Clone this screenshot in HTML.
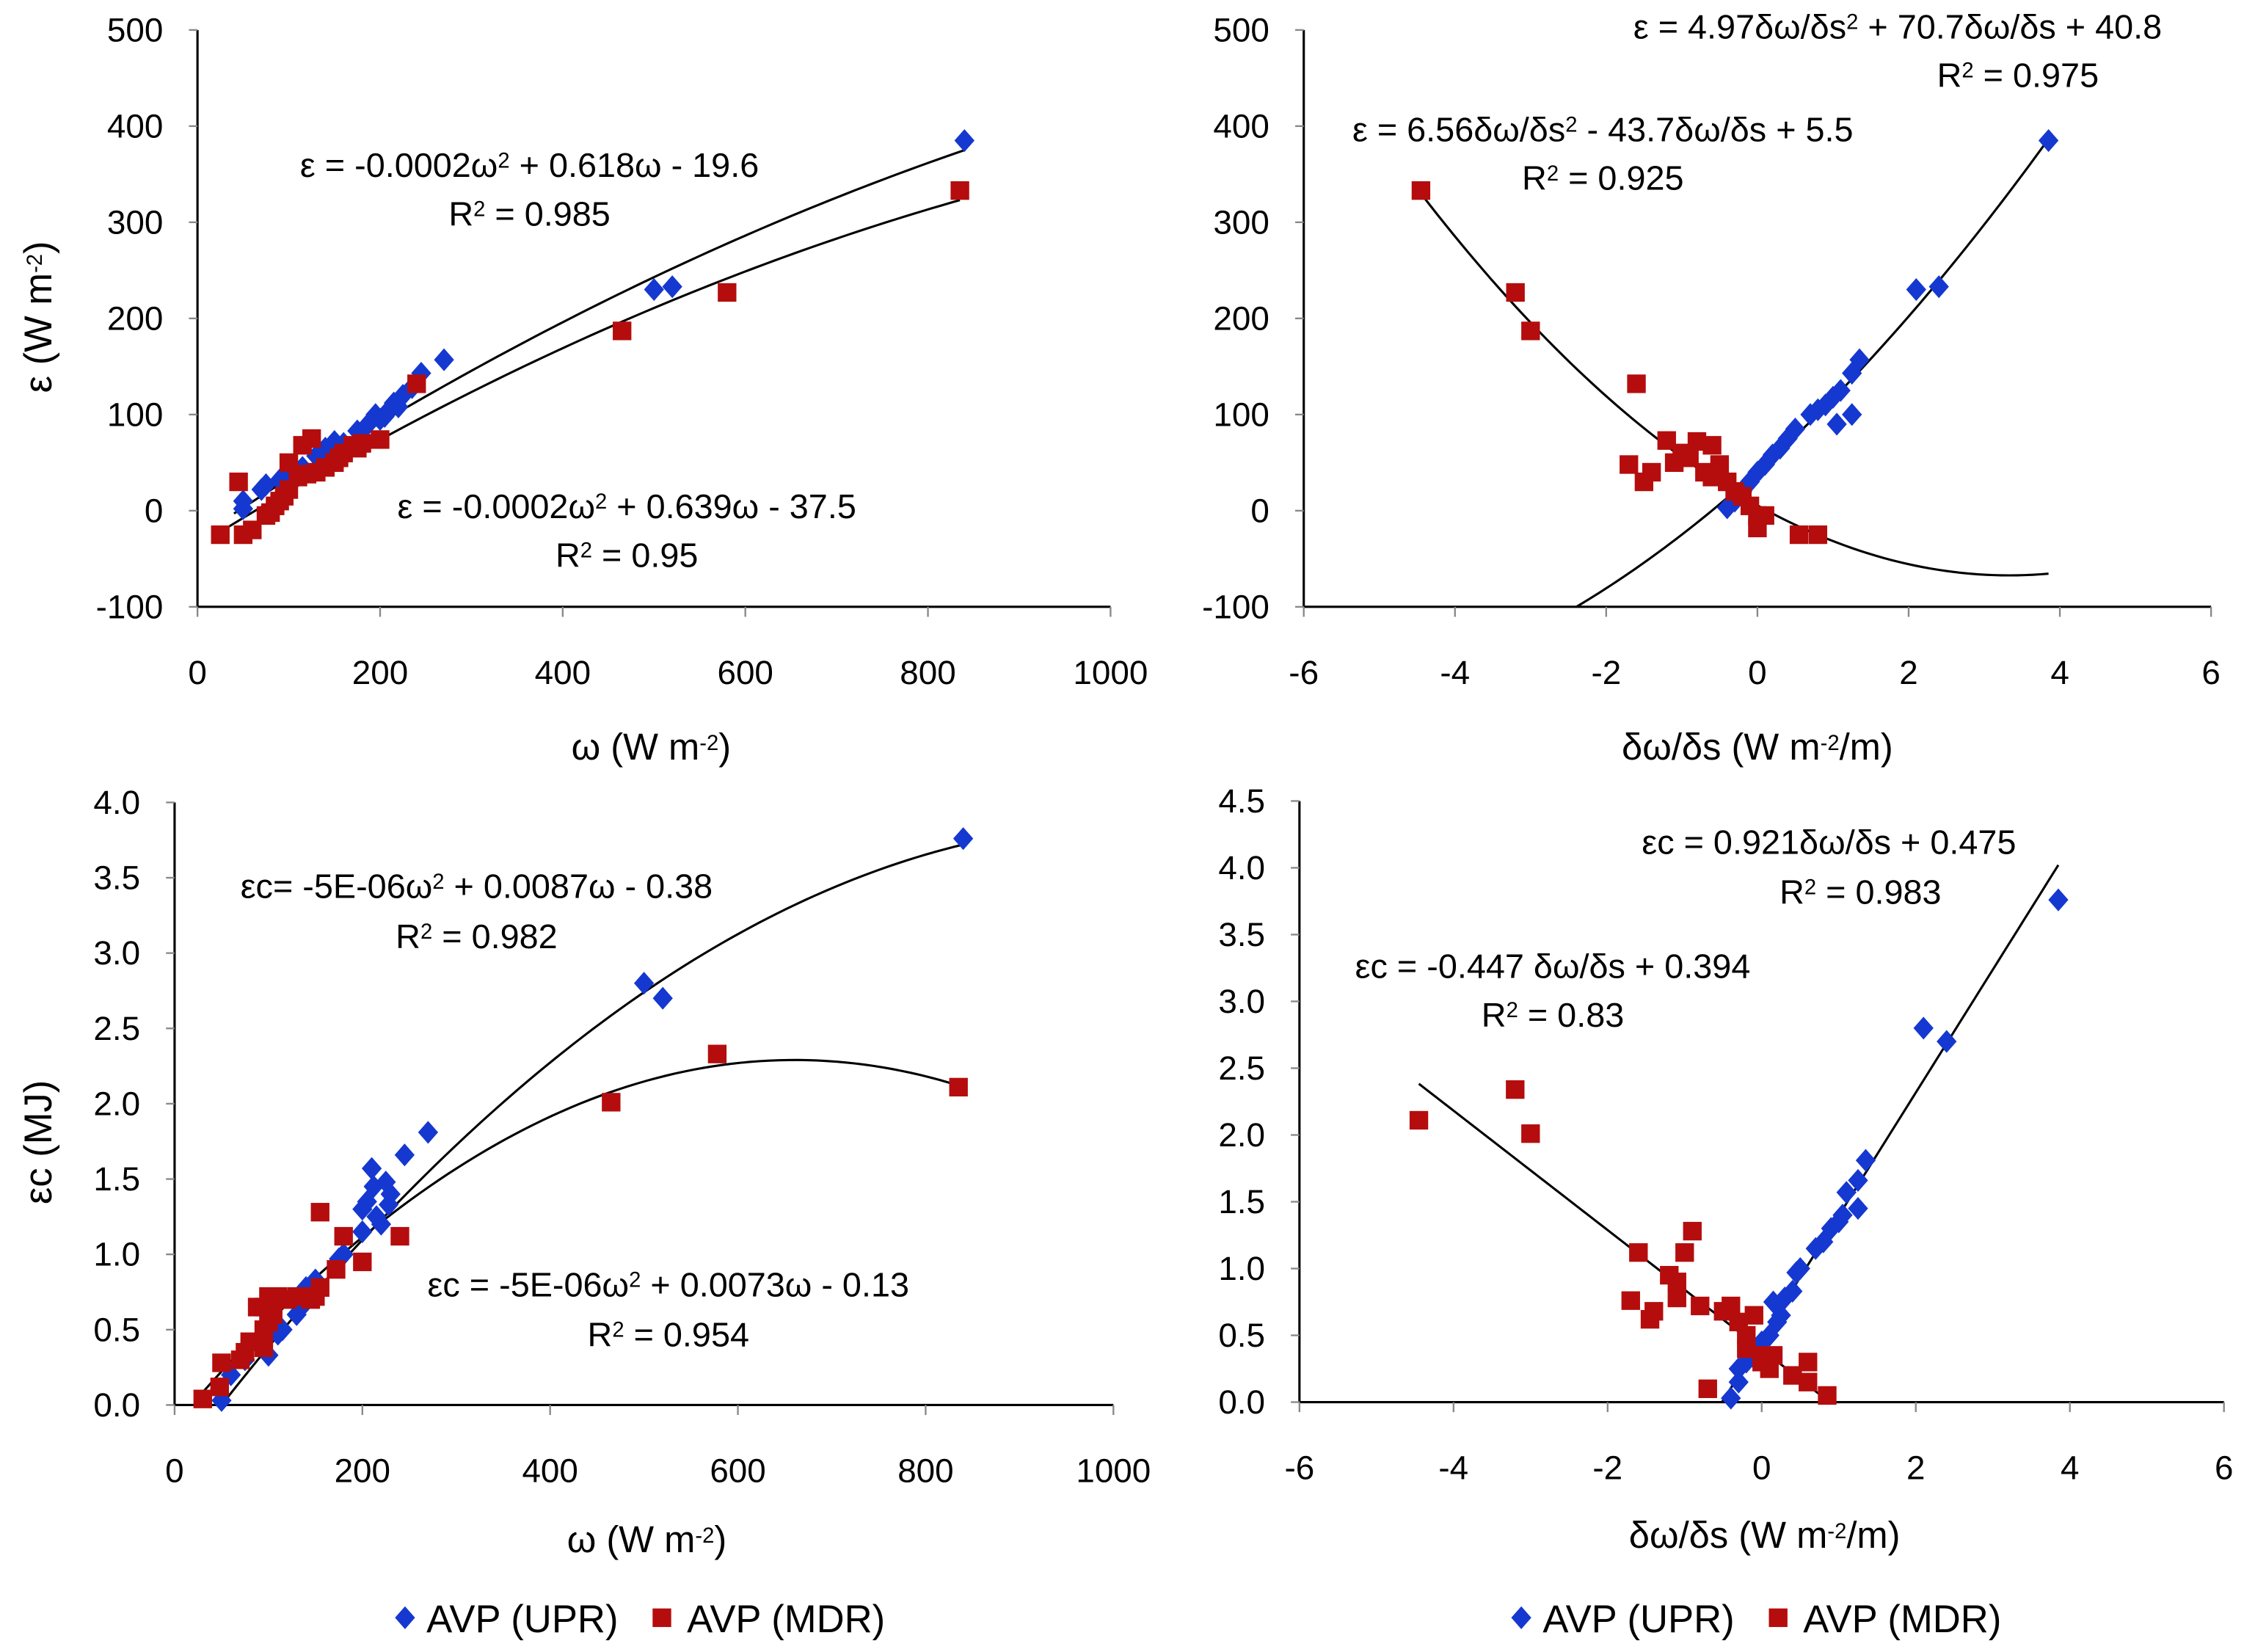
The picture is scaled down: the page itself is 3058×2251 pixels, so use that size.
<!DOCTYPE html>
<html><head><meta charset="utf-8"><style>
html,body{margin:0;padding:0;background:#fff;}
svg{display:block;}
text{font-family:"Liberation Sans",sans-serif;fill:#000;}
</style></head><body>
<svg id="fig" width="3058" height="2251" viewBox="0 0 1568 1157" preserveAspectRatio="none" xmlns="http://www.w3.org/2000/svg"></svg>
<script>
// ---- Panel A data (omega vs epsilon) ----
const aUprX=[840,500,520,270,245,235,225,215,210,205,200,195,185,175,150,140,130,115,100,90,75,70,50,50,160,220];
const aUprY=[385,230,233,157,143,128,120,112,105,98,95,100,88,83,72,65,57,45,38,32,27,22,10,2,70,108];
const aMdrX=[835,580,465,240,200,180,170,160,150,140,125,115,130,110,100,100,95,90,85,80,75,60,50,25,45,120,155,175];
const aMdrY=[333,227,187,132,74,70,68,60,50,45,75,68,40,35,50,22,15,10,5,-2,-5,-20,-25,-25,30,38,55,65];
const aFitUpr=[-0.0001824,0.633,-28];
const aFitMdr=[-0.0001916,0.5907,-36.6];
// ---- Panel B data (gradient vs epsilon) ----
const bUprX=[3.85,2.1,2.4,1.35,1.25,1.25,1.05,1.1,1.0,0.9,0.8,0.7,0.5,0.4,0.3,0.2,0.1,0,-0.1,-0.2,-0.3,-0.4,-0.25];
const bUprY=[385,230,233,157,143,100,90,125,118,110,105,100,85,75,65,58,48,40,30,20,10,3,15];
const bMdrX=[-4.45,-3.2,-3.0,-1.6,-1.7,-1.4,-1.5,-1.2,-1.1,-1.0,-0.9,-0.8,-0.6,-0.5,-0.7,-0.4,-0.3,-0.6,-0.2,0,0.1,0,0.55,0.8,-0.1];
const bMdrY=[333,227,187,132,48,40,30,73,50,60,55,72,68,48,40,30,20,35,15,-5,-5,-18,-25,-25,5];
const bFitUpr=[4.97,70.7,40.8];
const bFitMdr=[6.56,-43.7,5.5];
// ---- Panel C data (omega vs epsilon-c) ----
const cUprX=[840,500,520,270,245,210,212,205,200,225,230,228,220,200,180,175,150,140,135,130,115,110,100,90,75,60,50,215];
const cUprY=[3.76,2.8,2.7,1.81,1.66,1.57,1.45,1.35,1.3,1.48,1.4,1.33,1.2,1.15,1.0,0.97,0.83,0.78,0.65,0.6,0.5,0.47,0.33,0.4,0.3,0.2,0.03,1.25];
const cMdrX=[835,578,465,240,200,172,180,155,155,150,145,130,120,110,100,95,88,100,95,95,80,75,70,50,48,30,105];
const cMdrY=[2.11,2.33,2.01,1.12,0.95,0.9,1.12,1.28,0.78,0.72,0.7,0.72,0.7,0.72,0.72,0.65,0.65,0.55,0.5,0.38,0.42,0.35,0.3,0.28,0.12,0.04,0.6];
const cFitUpr=[-4.058e-6,0.008321,-0.406];
const cFitMdr=[-5.55e-6,0.00733,-0.13];
// ---- Panel D data (gradient vs epsilon-c) ----
const dUprX=[3.85,2.1,2.4,1.35,1.25,1.25,1.1,1.05,1.0,0.9,0.8,0.7,0.5,0.45,0.4,0.3,0.25,0.2,0.15,0.1,0,-0.1,-0.2,-0.3,-0.4,-0.3];
const dUprY=[3.76,2.8,2.7,1.81,1.66,1.45,1.57,1.4,1.35,1.3,1.2,1.15,1.0,0.97,0.83,0.78,0.65,0.6,0.75,0.5,0.45,0.33,0.3,0.15,0.03,0.25];
const dMdrX=[-4.45,-3.2,-3.0,-1.6,-1.7,-1.4,-1.45,-1.2,-1.1,-1.0,-1.1,-0.9,-0.8,-0.7,-0.5,-0.4,-0.3,-0.2,-0.1,0,0,0.1,0.15,0.4,0.6,0.6,0.85,-0.2];
const dMdrY=[2.11,2.34,2.01,1.12,0.76,0.68,0.62,0.95,0.9,1.12,0.78,1.28,0.72,0.1,0.68,0.72,0.6,0.5,0.65,0.35,0.3,0.25,0.35,0.2,0.3,0.15,0.05,0.4];
const dFitUpr=[0,0.921,0.475];
const dFitMdr=[0,-0.447,0.394];

const NS="http://www.w3.org/2000/svg";
const svg=document.getElementById('fig');
const BLUE="#1538d0", RED="#b50d0d";
function el(tag,attrs,parent){const e=document.createElementNS(NS,tag);for(const k in attrs)e.setAttribute(k,attrs[k]);(parent||svg).appendChild(e);return e;}

function panel(p){
  const g=el('g',{});
  
  
  const sx=v=>p.x0+(v-p.xmin)/(p.xmax-p.xmin)*(p.x1-p.x0);
  const sy=v=>p.y0-(v-p.ymin)/(p.ymax-p.ymin)*(p.y0-p.y1);
  const ya=el('line',{x1:p.x0,y1:p.y1,x2:p.x0,y2:p.y0,stroke:'#000','stroke-width':1.6},g);
  
  
  const xa=el('line',{x1:p.x0,y1:p.y0,x2:p.x1,y2:p.y0,stroke:'#000','stroke-width':1.6},g);
  
  
  for(let v=p.ymin;v<=p.ymax+1e-9;v+=p.ystep){
    const y=sy(v);
    el('line',{x1:p.x0-6,y1:y,x2:p.x0,y2:y,stroke:'#888','stroke-width':1.2},g);
    const t=el('text',{x:p.x0-24,y:y+8,'text-anchor':'end','font-size':23.5},g);
    t.textContent=p.yfmt(v);
    
    
  }
  for(let v=p.xmin;v<=p.xmax+1e-9;v+=p.xstep){
    const x=sx(v);
    el('line',{x1:x,y1:p.y0,x2:x,y2:p.y0+7,stroke:'#888','stroke-width':1.2},g);
    const t=el('text',{x:x,y:p.y0+54,'text-anchor':'middle','font-size':23.5},g);
    t.textContent=String(Math.round(v));
    
    
  }
  p.fits.forEach(f=>{
    let d='';const n=80;
    for(let i=0;i<=n;i++){const x=f.from+(f.to-f.from)*i/n;const y=f.c[0]*x*x+f.c[1]*x+f.c[2];d+=(i?'L':'M')+sx(x).toFixed(2)+' '+sy(y).toFixed(2);}
    const path=el('path',{d:d,fill:'none',stroke:'#000','stroke-width':1.6},g);
    
    
  });
  p.upr[0].forEach((xv,i)=>{
    const cx=sx(xv),cy=sy(p.upr[1][i]);
    const m=el('path',{d:`M${cx} ${cy-8}L${cx+7} ${cy}L${cx} ${cy+8}L${cx-7} ${cy}Z`,fill:BLUE},g);
    
    
  });
  p.mdr[0].forEach((xv,i)=>{
    const cx=sx(xv),cy=sy(p.mdr[1][i]);
    const m=el('rect',{x:cx-6.5,y:cy-6.5,width:13,height:13,fill:RED},g);
    
    
  });
  p.labels.forEach(l=>{
    const t=el('text',{x:l.x,y:l.y,'text-anchor':'middle','font-size':l.fs||24},g);
    t.innerHTML=l.html;
    
    
    if(l.rot)t.setAttribute('transform',`rotate(-90 ${l.x} ${l.y})`);
  });
}
const sup=s=>`<tspan font-size="15" baseline-shift="45%">${s}</tspan>`;
const int0=v=>String(Math.round(v));
const one=v=>v.toFixed(1);

panel({name:'panel-energy-omega',x0:138,x1:776,y0:425,y1:21,xmin:0,xmax:1000,ymin:-100,ymax:500,xstep:200,ystep:100,yfmt:int0,
  upr:[aUprX,aUprY],mdr:[aMdrX,aMdrY],
  fits:[{name:'upr-fit-curve',c:aFitUpr,from:40,to:840},{name:'mdr-fit-curve',c:aFitMdr,from:25,to:835}],
  labels:[{name:'upr-equation',x:370,y:124,html:'ε = -0.0002ω'+sup('2')+' + 0.618ω - 19.6'},
          {name:'upr-r2',x:370,y:158,html:'R'+sup('2')+' = 0.985'},
          {name:'mdr-equation',x:438,y:363,html:'ε = -0.0002ω'+sup('2')+' + 0.639ω - 37.5'},
          {name:'mdr-r2',x:438,y:397,html:'R'+sup('2')+' = 0.95'},
          {name:'y-axis-title',x:36,y:222,rot:true,fs:27,html:'ε (W m'+sup('-2')+')'},
          {name:'x-axis-title',x:455,y:532,fs:26,html:'ω (W m'+sup('-2')+')'}]});

panel({name:'panel-energy-gradient',x0:911,x1:1545,y0:425,y1:21,xmin:-6,xmax:6,ymin:-100,ymax:500,xstep:2,ystep:100,yfmt:int0,
  upr:[bUprX,bUprY],mdr:[bMdrX,bMdrY],
  fits:[{name:'upr-fit-curve',c:bFitUpr,from:-2.4,to:3.85},{name:'mdr-fit-curve',c:bFitMdr,from:-4.45,to:3.85}],
  labels:[{name:'upr-equation',x:1326,y:27,html:'ε = 4.97δω/δs'+sup('2')+' + 70.7δω/δs + 40.8'},
          {name:'upr-r2',x:1410,y:61,html:'R'+sup('2')+' = 0.975'},
          {name:'mdr-equation',x:1120,y:99,html:'ε = 6.56δω/δs'+sup('2')+' - 43.7δω/δs + 5.5'},
          {name:'mdr-r2',x:1120,y:133,html:'R'+sup('2')+' = 0.925'},
          {name:'x-axis-title',x:1228,y:532,fs:26,html:'δω/δs (W m'+sup('-2')+'/m)'}]});

panel({name:'panel-ec-omega',x0:122,x1:778,y0:984,y1:562,xmin:0,xmax:1000,ymin:0,ymax:4,xstep:200,ystep:0.5,yfmt:one,
  upr:[cUprX,cUprY],mdr:[cMdrX,cMdrY],
  fits:[{name:'upr-fit-curve',c:cFitUpr,from:50,to:840},{name:'mdr-fit-curve',c:cFitMdr,from:30,to:835}],
  labels:[{name:'upr-equation',x:333,y:629,html:'εc= -5E-06ω'+sup('2')+' + 0.0087ω - 0.38'},
          {name:'upr-r2',x:333,y:664,html:'R'+sup('2')+' = 0.982'},
          {name:'mdr-equation',x:467,y:908,html:'εc = -5E-06ω'+sup('2')+' + 0.0073ω - 0.13'},
          {name:'mdr-r2',x:467,y:943,html:'R'+sup('2')+' = 0.954'},
          {name:'y-axis-title',x:36,y:800,rot:true,fs:27,html:'εc (MJ)'},
          {name:'x-axis-title',x:452,y:1087,fs:26,html:'ω (W m'+sup('-2')+')'}]});

panel({name:'panel-ec-gradient',x0:908,x1:1554,y0:982,y1:561,xmin:-6,xmax:6,ymin:0,ymax:4.5,xstep:2,ystep:0.5,yfmt:one,
  upr:[dUprX,dUprY],mdr:[dMdrX,dMdrY],
  fits:[{name:'upr-fit-line',c:dFitUpr,from:-0.516,to:3.85},{name:'mdr-fit-line',c:dFitMdr,from:-4.45,to:0.88}],
  labels:[{name:'upr-equation',x:1278,y:598,html:'εc = 0.921δω/δs + 0.475'},
          {name:'upr-r2',x:1300,y:633,html:'R'+sup('2')+' = 0.983'},
          {name:'mdr-equation',x:1085,y:685,html:'εc = -0.447 δω/δs + 0.394'},
          {name:'mdr-r2',x:1085,y:719,html:'R'+sup('2')+' = 0.83'},
          {name:'x-axis-title',x:1233,y:1084,fs:26,html:'δω/δs (W m'+sup('-2')+'/m)'}]});

function legend(x,y,name){
  const g=el('g',{});
  
  
  el('path',{d:`M${x} ${y-8}L${x+7} ${y}L${x} ${y+8}L${x-7} ${y}Z`,fill:BLUE},g);
  const t1=el('text',{x:x+15,y:y+10,'font-size':27},g);t1.textContent='AVP (UPR)';
  
  
  el('rect',{x:x+173,y:y-6.5,width:13,height:13,fill:RED},g);
  const t2=el('text',{x:x+197,y:y+10,'font-size':27},g);t2.textContent='AVP (MDR)';
  
  
}
legend(283,1133,'legend-left');
legend(1063,1133,'legend-right');
</script>
</body></html>
